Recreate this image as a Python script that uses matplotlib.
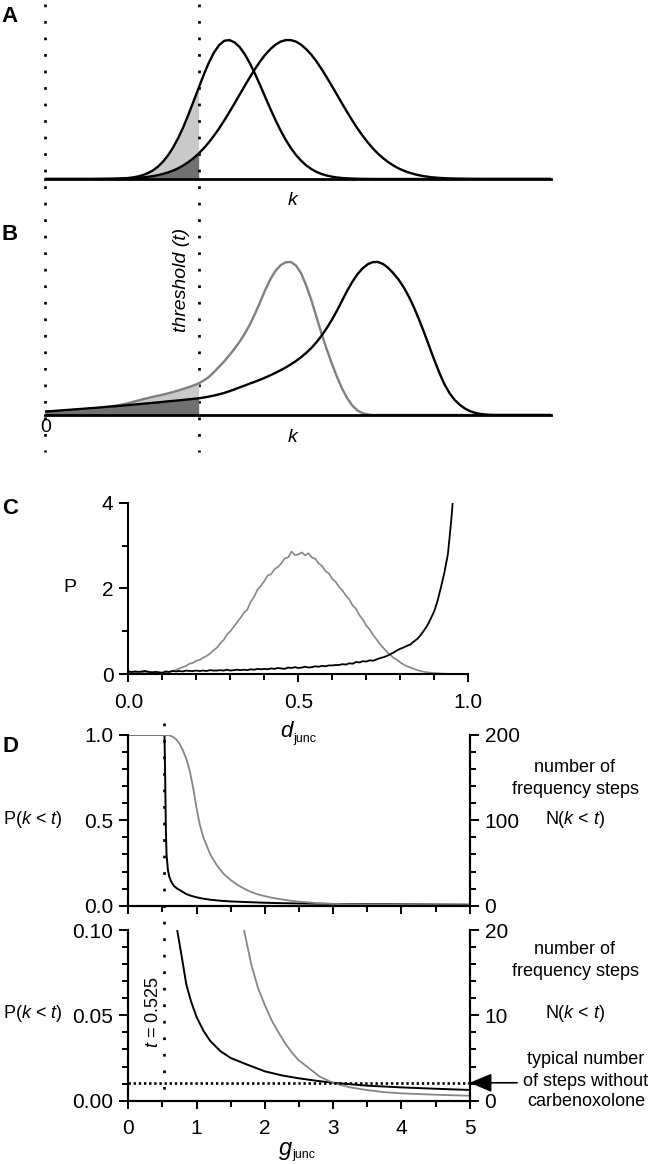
import numpy as np
import matplotlib
matplotlib.use("Agg")
import matplotlib.pyplot as plt
from matplotlib.ticker import MultipleLocator, FixedLocator
from matplotlib.transforms import blended_transform_factory

plt.rcParams['font.family'] = ['Liberation Sans', 'DejaVu Sans']
plt.rcParams['mathtext.fontset'] = 'custom'
plt.rcParams['mathtext.rm'] = 'Liberation Sans'
plt.rcParams['mathtext.it'] = 'Liberation Sans:italic'

# ---------------- data ----------------
# Panels A/B: schematic distributions over k (sampled every 0.1 from 0 to 10)
k_vals = np.linspace(0, 10, 101)
threshold_k = 3.0
A_curve1 = ([0] * 10 +
            [0.0002, 0.0004, 0.0007, 0.0012, 0.0022, 0.0038, 0.0064, 0.0106, 0.017, 0.0266,
             0.041, 0.060, 0.087, 0.123, 0.169, 0.226, 0.294, 0.373, 0.463, 0.558,
             0.655, 0.750, 0.837, 0.910, 0.963, 0.994, 0.999, 0.983, 0.949, 0.898,
             0.832, 0.757, 0.675, 0.589, 0.505, 0.424, 0.349, 0.282, 0.223, 0.173,
             0.132, 0.098, 0.072, 0.051, 0.036, 0.025, 0.017, 0.011, 0.007, 0.0046,
             0.003, 0.0018, 0.001, 0.0006, 0.0003] +
            [0] * 36)
A_curve2 = ([0] * 10 +
            [0.0004, 0.0006, 0.0009, 0.0014, 0.002, 0.0029, 0.004, 0.0058, 0.008, 0.011,
             0.015, 0.0204, 0.027, 0.036, 0.047, 0.0605, 0.077, 0.0975, 0.122, 0.150,
             0.183, 0.221, 0.264, 0.312, 0.364, 0.421, 0.481, 0.543, 0.607, 0.670,
             0.732, 0.791, 0.846, 0.894, 0.934, 0.966, 0.988, 0.999, 0.999, 0.988,
             0.966, 0.934, 0.894, 0.846, 0.791, 0.732, 0.670, 0.607, 0.543, 0.481,
             0.421, 0.364, 0.312, 0.264, 0.221, 0.183, 0.150, 0.122, 0.0975, 0.077,
             0.0605, 0.047, 0.036, 0.027, 0.0204, 0.015, 0.011, 0.008, 0.0058, 0.004,
             0.0029, 0.002, 0.0014, 0.0009, 0.0006, 0.0004] +
            [0] * 15)
B_gray = ([0.022, 0.0235, 0.025, 0.027, 0.029, 0.031, 0.033, 0.0355, 0.038, 0.041,
           0.044, 0.048, 0.052, 0.057, 0.062, 0.068, 0.075, 0.084, 0.093, 0.102,
           0.11, 0.118, 0.125, 0.133, 0.141, 0.15, 0.16, 0.17, 0.181, 0.193,
           0.206, 0.225, 0.248, 0.28, 0.315, 0.35, 0.39, 0.432, 0.478, 0.53,
           0.59, 0.66, 0.735, 0.815, 0.885, 0.94, 0.977, 0.996, 0.998, 0.975,
           0.925, 0.845, 0.75, 0.64, 0.53, 0.43, 0.335, 0.25, 0.172, 0.11,
           0.062, 0.03, 0.012, 0.004, 0.0] +
          [0] * 36)
B_black = ([0.022, 0.0245, 0.027, 0.0295, 0.032, 0.0345, 0.037, 0.0395, 0.042, 0.0445,
            0.047, 0.050, 0.053, 0.0555, 0.058, 0.061, 0.064, 0.067, 0.070, 0.073,
            0.076, 0.079, 0.082, 0.0855, 0.089, 0.092, 0.095, 0.0985, 0.102, 0.1055,
            0.109, 0.114, 0.12, 0.127, 0.135, 0.144, 0.155, 0.167, 0.18, 0.192,
            0.205, 0.217, 0.23, 0.244, 0.259, 0.275, 0.292, 0.31, 0.33, 0.352,
            0.377, 0.405, 0.437, 0.474, 0.517, 0.566, 0.62, 0.68, 0.745, 0.81,
            0.868, 0.918, 0.956, 0.983, 0.997, 0.998, 0.985, 0.96, 0.925, 0.885,
            0.835, 0.775, 0.705, 0.625, 0.54, 0.45, 0.36, 0.275, 0.2, 0.142,
            0.098, 0.066, 0.042, 0.025, 0.014, 0.007, 0.003, 0.001, 0.0] +
           [0] * 12)

# Panel C: P(d_junc)
d_gray = np.linspace(0, 1, 101)
C_gray = [0.03, 0.04, 0.03, 0.02, 0.03, 0.02, 0.03, 0.02, 0.02, 0.01,
          0.02, 0.03, 0.04, 0.07, 0.09, 0.13, 0.16, 0.19, 0.24, 0.26,
          0.31, 0.33, 0.38, 0.42, 0.47, 0.55, 0.61, 0.71, 0.79, 0.92,
          1.00, 1.10, 1.21, 1.31, 1.43, 1.50, 1.69, 1.80, 1.97, 2.06,
          2.17, 2.30, 2.33, 2.45, 2.50, 2.58, 2.70, 2.72, 2.86, 2.78,
          2.79, 2.84, 2.77, 2.82, 2.72, 2.69, 2.58, 2.52, 2.40, 2.35,
          2.22, 2.15, 2.03, 1.95, 1.83, 1.74, 1.60, 1.52, 1.37, 1.27,
          1.13, 1.04, 0.91, 0.81, 0.70, 0.61, 0.52, 0.45, 0.38, 0.33,
          0.27, 0.22, 0.18, 0.15, 0.12, 0.09, 0.07, 0.05, 0.04, 0.03,
          0.02, 0.02, 0.01, 0.01, 0.0, 0.0, 0.0, 0.0, 0.0, 0.0, 0.0]
d_black = np.linspace(0, 0.96, 97)
C_black = [0.06, 0.05, 0.06, 0.05, 0.06, 0.07, 0.05, 0.04, 0.05, 0.04,
           0.03, 0.06, 0.05, 0.07, 0.06, 0.07, 0.06, 0.08, 0.07, 0.07,
           0.08, 0.07, 0.08, 0.07, 0.09, 0.08, 0.08, 0.09, 0.08, 0.10,
           0.08, 0.09, 0.10, 0.09, 0.10, 0.09, 0.11, 0.10, 0.12, 0.11,
           0.12, 0.11, 0.13, 0.12, 0.14, 0.13, 0.12, 0.15, 0.14, 0.16,
           0.14, 0.15, 0.17, 0.15, 0.16, 0.18, 0.17, 0.19, 0.18, 0.20,
           0.20, 0.21, 0.21, 0.23, 0.22, 0.25, 0.24, 0.28, 0.27, 0.30,
           0.29, 0.32, 0.31, 0.34, 0.37, 0.39, 0.42, 0.46, 0.50, 0.55,
           0.59, 0.62, 0.66, 0.69, 0.76, 0.82, 0.91, 1.02, 1.14, 1.30,
           1.47, 1.72, 2.04, 2.38, 2.80, 3.60, 4.60]

# Panel D: P(k < t) versus g_junc
g_black = [0, 0.5, 0.53, 0.54, 0.55, 0.56, 0.58, 0.6, 0.63, 0.67, 0.72, 0.78,
           0.85, 0.92, 1.0, 1.1, 1.2, 1.35, 1.5, 1.75, 2.0, 2.25, 2.5, 2.75,
           3.0, 3.5, 4.0, 4.5, 5.0]
P_black = [1, 1, 1.0, 0.75, 0.45, 0.30, 0.21, 0.17, 0.14, 0.115, 0.099, 0.085,
           0.068, 0.058, 0.049, 0.041, 0.035, 0.029, 0.025, 0.021, 0.0172, 0.0148,
           0.0131, 0.0117, 0.0105, 0.0088, 0.0078, 0.0070, 0.0063]
g_gray = [0, 0.55, 0.6, 0.65, 0.7, 0.75, 0.8, 0.85, 0.9, 0.95, 1.0, 1.05, 1.1,
          1.2, 1.3, 1.4, 1.5, 1.6, 1.7, 1.8, 1.9, 2.0, 2.1, 2.2, 2.3, 2.4, 2.5,
          2.6, 2.8, 3.0, 3.25, 3.5, 3.75, 4.0, 4.5, 5.0]
P_gray = [1, 1, 0.998, 0.99, 0.975, 0.95, 0.91, 0.86, 0.79, 0.69, 0.57, 0.47,
          0.40, 0.30, 0.235, 0.185, 0.15, 0.122, 0.099, 0.08, 0.066, 0.056, 0.047,
          0.04, 0.0335, 0.028, 0.0235, 0.0205, 0.0142, 0.0104, 0.0078, 0.0062,
          0.0050, 0.0043, 0.0035, 0.0029]
t_threshold = 0.525
typical_steps = 2.1
N_total = 200  # right axis: number of frequency steps at P = 1

# ---------------- figure ----------------
W, H = 654, 1164
fig = plt.figure(figsize=(W / 100, H / 100), dpi=100)
fig.patch.set_facecolor('white')


def add_ax(l, t, r, b):
    return fig.add_axes([l / W, 1 - b / H, (r - l) / W, (b - t) / H])


def ftext(x, y, s, **kw):
    fig.text(x / W, 1 - y / H, s, **kw)


GRAY = '#868686'
LIGHT = '#c9c9c9'
DARK = '#707070'
DOT = (0, (1, 5.1))

k_arr = np.asarray(k_vals)
mask = k_arr <= threshold_k + 1e-9

# ---- Panel A ----
axA = add_ax(45, 33, 551, 179)
a1 = np.asarray(A_curve1)
a2 = np.asarray(A_curve2)
axA.fill_between(k_arr[mask], 0, a1[mask], color=LIGHT, lw=0)
axA.fill_between(k_arr[mask], 0, a2[mask], color=DARK, lw=0)
axA.plot(k_arr, a1, color='k', lw=1.7)
axA.plot(k_arr, a2, color='k', lw=1.7)

# ---- Panel B ----
axB = add_ax(45, 254, 551, 415)
bg = np.asarray(B_gray)
bb = np.asarray(B_black)
axB.fill_between(k_arr[mask], 0, bg[mask], color=LIGHT, lw=0)
axB.fill_between(k_arr[mask], 0, bb[mask], color=DARK, lw=0)
axB.plot(k_arr, bg, color='#808080', lw=1.7)
axB.plot(k_arr, bb, color='k', lw=1.7)

for ax in (axA, axB):
    ax.set_xlim(0, 9.88)
    ax.set_ylim(0, 1.05)
    for s in ('top', 'right', 'left'):
        ax.spines[s].set_visible(False)
    ax.spines['bottom'].set_linewidth(2.0)
    ax.set_xticks([])
    ax.set_yticks([])
    ax.patch.set_alpha(0)

trA = blended_transform_factory(axA.transData, fig.transFigure)
for xv in (0.0, threshold_k):
    axA.plot([xv, xv], [1 - 4 / H, 1 - 452 / H], transform=trA, clip_on=False,
             color='k', lw=1.95, ls=DOT)

ftext(10, 17, 'A', fontsize=16, fontweight='bold', ha='center', va='center')
ftext(10, 235, 'B', fontsize=16, fontweight='bold', ha='center', va='center')
ftext(293, 200, 'k', fontsize=14, style='italic', ha='center', va='center')
ftext(293, 437, 'k', fontsize=14, style='italic', ha='center', va='center')
ftext(46, 428, '0', fontsize=14, ha='center', va='center')
ftext(182, 280, 'threshold (t)', fontsize=14, style='italic', rotation=90,
      ha='center', va='center')

# ---- Panel C ----
axC = add_ax(128.3, 502.7, 468.3, 674)
axC.plot(d_gray, C_gray, color=GRAY, lw=1.2)
axC.plot(d_black, C_black, color='k', lw=1.3)
axC.set_xlim(0, 1)
axC.set_ylim(0, 4)
axC.xaxis.set_major_locator(FixedLocator([0, 0.5, 1.0]))
axC.xaxis.set_minor_locator(MultipleLocator(0.1))
axC.set_xticklabels(['0.0', '0.5', '1.0'])
axC.yaxis.set_major_locator(FixedLocator([0, 2, 4]))
axC.yaxis.set_minor_locator(MultipleLocator(1))
axC.set_yticklabels(['0', '2', '4'])
for s in ('top', 'right'):
    axC.spines[s].set_visible(False)

ftext(10, 509, 'C', fontsize=16, fontweight='bold', ha='center', va='center')
ftext(70, 588, 'P', fontsize=14, ha='center', va='center')
ftext(293, 737, 'd', fontsize=16, style='italic', ha='right', va='baseline')
ftext(293.5, 742, 'junc', fontsize=9, ha='left', va='baseline')

# ---- Panel D ----
axD1 = add_ax(128.3, 735, 469.7, 905.7)
axD2 = add_ax(128.3, 930, 469.7, 1100.7)
axD1r = axD1.twinx()
axD2r = axD2.twinx()

for ax in (axD1, axD2):
    ax.plot(g_black, P_black, color='k', lw=1.4)
    ax.plot(g_gray, P_gray, color=GRAY, lw=1.3)
    ax.set_xlim(0, 5)
    ax.xaxis.set_major_locator(MultipleLocator(1))
    ax.xaxis.set_minor_locator(MultipleLocator(0.5))

axD1.set_ylim(0, 1)
axD1.yaxis.set_major_locator(FixedLocator([0, 0.5, 1.0]))
axD1.yaxis.set_minor_locator(MultipleLocator(0.1))
axD1.set_yticklabels(['0.0', '0.5', '1.0'])
axD1.tick_params(axis='x', labelbottom=False)
axD1r.set_ylim(0, N_total)
axD1r.yaxis.set_major_locator(FixedLocator([0, 100, 200]))
axD1r.yaxis.set_minor_locator(MultipleLocator(20))

axD2.set_ylim(0, 0.1)
axD2.yaxis.set_major_locator(FixedLocator([0, 0.05, 0.10]))
axD2.yaxis.set_minor_locator(MultipleLocator(0.01))
axD2.set_yticklabels(['0.00', '0.05', '0.10'])
axD2r.set_ylim(0, N_total * 0.1)
axD2r.yaxis.set_major_locator(FixedLocator([0, 10, 20]))
axD2r.yaxis.set_minor_locator(MultipleLocator(2))

axD2r.axhline(typical_steps, color='k', lw=1.9, ls=(0, (0.9, 1.05)))
axD2r.annotate('', xy=(5, typical_steps), xycoords='data',
               xytext=(1.139, typical_steps), textcoords=('axes fraction', 'data'),
               arrowprops=dict(arrowstyle='-|>,head_length=0.9,head_width=0.38',
                               mutation_scale=15, lw=1.2, color='k',
                               shrinkA=0, shrinkB=0),
               annotation_clip=False)

trD = blended_transform_factory(axD2.transData, fig.transFigure)
axD2.plot([t_threshold, t_threshold], [1 - 722.7 / H, 1 - 1090 / H], transform=trD,
          clip_on=False, color='k', lw=1.95, ls=DOT)

for ax in (axD1r, axD2r, axD1, axD2):
    ax.spines['top'].set_visible(False)

# common tick styling
for ax in (axC, axD1, axD2, axD1r, axD2r):
    for s in ax.spines.values():
        s.set_linewidth(1.5)
    ax.tick_params(which='major', direction='out', width=1.4)
    ax.tick_params(which='minor', direction='out', width=1.4)
    ax.tick_params(axis='y', which='major', length=6.7, labelsize=15, pad=4)
    ax.tick_params(axis='y', which='minor', length=4.1)
    ax.tick_params(axis='x', which='major', length=5.5, labelsize=15, pad=8)
    ax.tick_params(axis='x', which='minor', length=4.0)
axC.tick_params(axis='x', which='major', length=6)
axC.tick_params(axis='x', which='minor', length=4.5)

ftext(10, 747, 'D', fontsize=16, fontweight='bold', ha='center', va='center')
for yoff in (0, 193):
    ftext(33, 820 + yoff, r'P($k$ < $t$)', fontsize=13, ha='center', va='center')
    ftext(575, 767 + yoff - (10 if yoff else 0), 'number of', fontsize=13,
          ha='center', va='center')
    ftext(575, 789 + yoff - (11 if yoff else 0), 'frequency steps', fontsize=13,
          ha='center', va='center')
    ftext(575, 820 + yoff, r'N($k$ < $t$)', fontsize=13, ha='center', va='center')

ftext(586, 1059, 'typical number', fontsize=13, ha='center', va='center')
ftext(586, 1081, 'of steps without', fontsize=13, ha='center', va='center')
ftext(586, 1102, 'carbenoxolone', fontsize=13, ha='center', va='center')
ftext(153, 1012, r'$t$ = 0.525', fontsize=13, rotation=90, ha='center', va='center')
ftext(292, 1155, 'g', fontsize=17, style='italic', ha='right', va='baseline')
ftext(292.5, 1158, 'junc', fontsize=9, ha='left', va='baseline')

fig.savefig('out.png', dpi=100, facecolor='white')
